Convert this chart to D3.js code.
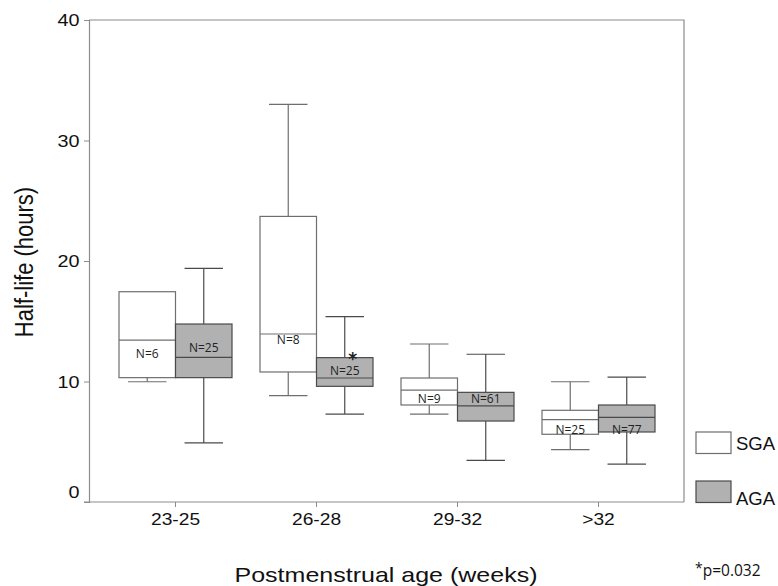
<!DOCTYPE html>
<html><head><meta charset="utf-8">
<script src="https://cdn.jsdelivr.net/npm/d3@7"></script>
<style>body{margin:0;background:#fff}svg{display:block}</style>
</head><body>
<svg id="c" width="778" height="586"></svg>
<script>
const categories = ["23-25","26-28","29-32",">32"];
const groups = ["SGA","AGA"];
// [whiskerLow, q1, median, q3, whiskerHigh]
const sgaStats = [
  [9.98, 10.32, 13.44, 17.45, 17.45],
  [8.82, 10.79, 13.94, 23.7, 33.0],
  [7.3, 8.05, 9.29, 10.29, 13.11],
  [4.34, 5.62, 6.83, 7.61, 9.98]
];
const agaStats = [
  [4.9, 10.32, 12.0, 14.77, 19.39],
  [7.3, 9.6, 10.29, 11.98, 15.38],
  [3.46, 6.72, 7.97, 9.1, 12.26],
  [3.15, 5.81, 7.03, 8.05, 10.37]
];
const sgaN = [6, 8, 9, 25];
const agaN = [25, 25, 61, 77];
// value at which each N label sits
const sgaLabelAt = [12.3, 13.5, 8.6, 6.0];
const agaLabelAt = [12.8, 10.9, 8.6, 6.0];
const yTicks = [0, 10, 20, 30, 40];
const significant = [null, "AGA", null, null]; // asterisk
const footnote = "p=0.032";

const svg = d3.select("#c");
const L = 89, R = 684, T = 20, B = 502;
const SX = 1.2; // horizontal stretch of the lettering
const ARIAL = "Liberation Sans, Arial, sans-serif";
const y = d3.scaleLinear().domain([0, 40]).range([B, T]);
const x = d3.scaleBand().domain(categories).range([105, 669]).padding(0);
const sub = d3.scaleBand().domain(groups).range([-56.5, 56.5]);
const fills = {SGA: "#ffffff", AGA: "#b1b1b1"};
const strokes = {SGA: "#6e6e6e", AGA: "#4a4a4a"};
const frame = "#8c8c8c";

// frame
svg.append("path").attr("d", `M${L},${T}H${R}V${B}`).attr("fill","none").attr("stroke",frame).attr("stroke-width",1.2);

// y axis
const ya = svg.append("g").attr("transform", `translate(${L},0)`)
  .call(d3.axisLeft(y).tickValues(yTicks).tickSize(5).tickPadding(3));
ya.select(".domain").attr("stroke", frame).attr("stroke-width",1.2);
ya.selectAll(".tick line").attr("stroke", frame);
ya.selectAll("text").attr("font-family",ARIAL).attr("font-size",16.5).attr("fill","#111")
  .attr("dy", d => d === 0 ? "-0.25em" : "0.36em")
  .attr("transform", `scale(${SX},1)`);

// x axis
const xa = svg.append("g").attr("transform", `translate(0,${B})`)
  .call(d3.axisBottom(x).tickSize(5).tickPadding(6));
xa.select(".domain").attr("d", `M${L-5},0H${R}`).attr("stroke", frame).attr("stroke-width",1.2);
xa.selectAll(".tick line").attr("stroke", frame);
xa.selectAll("text").attr("font-family",ARIAL).attr("font-size",17).attr("fill","#111")
  .attr("transform", `scale(1.13,1)`);

// boxes
const rows = [];
categories.forEach((c, i) => {
  rows.push({c, g:"SGA", s:sgaStats[i], n:sgaN[i], la:sgaLabelAt[i]});
  rows.push({c, g:"AGA", s:agaStats[i], n:agaN[i], la:agaLabelAt[i]});
});
const bw = sub.bandwidth();
const capW = bw * 0.68;
rows.forEach(d => {
  const x0 = x(d.c) + x.bandwidth()/2 + sub(d.g);
  const cx = x0 + bw/2;
  const g = svg.append("g");
  const st = strokes[d.g];
  const [lo, q1, med, q3, hi] = d.s;
  if (hi > q3) {
    g.append("line").attr("x1",cx).attr("x2",cx).attr("y1",y(q3)).attr("y2",y(hi)).attr("stroke",st).attr("stroke-width",1.2);
    g.append("line").attr("x1",cx-capW/2).attr("x2",cx+capW/2).attr("y1",y(hi)).attr("y2",y(hi)).attr("stroke",st).attr("stroke-width",1.2);
  }
  if (lo < q1) {
    g.append("line").attr("x1",cx).attr("x2",cx).attr("y1",y(q1)).attr("y2",y(lo)).attr("stroke",st).attr("stroke-width",1.2);
    g.append("line").attr("x1",cx-capW/2).attr("x2",cx+capW/2).attr("y1",y(lo)).attr("y2",y(lo)).attr("stroke",st).attr("stroke-width",1.2);
  }
  g.append("rect").attr("x",x0).attr("width",bw).attr("y",y(q3)).attr("height",y(q1)-y(q3))
    .attr("fill",fills[d.g]).attr("stroke",st).attr("stroke-width",1.2);
  g.append("line").attr("x1",x0).attr("x2",x0+bw).attr("y1",y(med)).attr("y2",y(med)).attr("stroke",st).attr("stroke-width",1.2);
  g.append("text").attr("x",cx).attr("y",y(d.la)).attr("text-anchor","middle").attr("dominant-baseline","central")
    .attr("font-family","Open Sans, DejaVu Sans, sans-serif").attr("font-size",12).attr("fill","#222").text("N=" + d.n);
});

// asterisk
significant.forEach((s, i) => {
  if (!s) return;
  const x0 = x(categories[i]) + x.bandwidth()/2 + sub(s);
  const q3 = (s === "AGA" ? agaStats : sgaStats)[i][3];
  svg.append("text").attr("x", x0 + bw*0.64).attr("y", y(q3) + 7)
    .attr("text-anchor","middle").attr("font-family","DejaVu Sans, sans-serif").attr("font-weight","bold")
    .attr("font-size",17).attr("fill","#222").text("*");
});

// legend
groups.forEach((g, i) => {
  const ly = [432, 481][i];
  const ty = [450, 505][i];
  svg.append("rect").attr("x",696).attr("y",ly).attr("width",35).attr("height",21.5)
    .attr("fill",fills[g]).attr("stroke",strokes[g]).attr("stroke-width",1.2);
  svg.append("text").attr("transform",`translate(736,${ty}) scale(1.03,1)`).attr("font-family",ARIAL)
    .attr("font-size",18).attr("fill","#111").text(g);
});

// axis titles
svg.append("text").attr("transform",`translate(386,582) scale(1.22,1)`).attr("text-anchor","middle")
  .attr("font-family",ARIAL).attr("font-size",20.5).attr("fill","#111").text("Postmenstrual age (weeks)");
svg.append("text").attr("transform","translate(33,262) rotate(-90) scale(1,1.2)").attr("text-anchor","middle")
  .attr("font-family",ARIAL).attr("font-size",22).attr("fill","#111").text("Half-life (hours)");

// footnote
const fn = svg.append("text").attr("x",695).attr("y",576).attr("font-family","Open Sans, DejaVu Sans, sans-serif").attr("font-size",15.5).attr("fill","#111");
fn.append("tspan").attr("font-size",14).attr("dy","-3").text("*");
fn.append("tspan").attr("dy","3").text(footnote);
</script>
</body></html>
